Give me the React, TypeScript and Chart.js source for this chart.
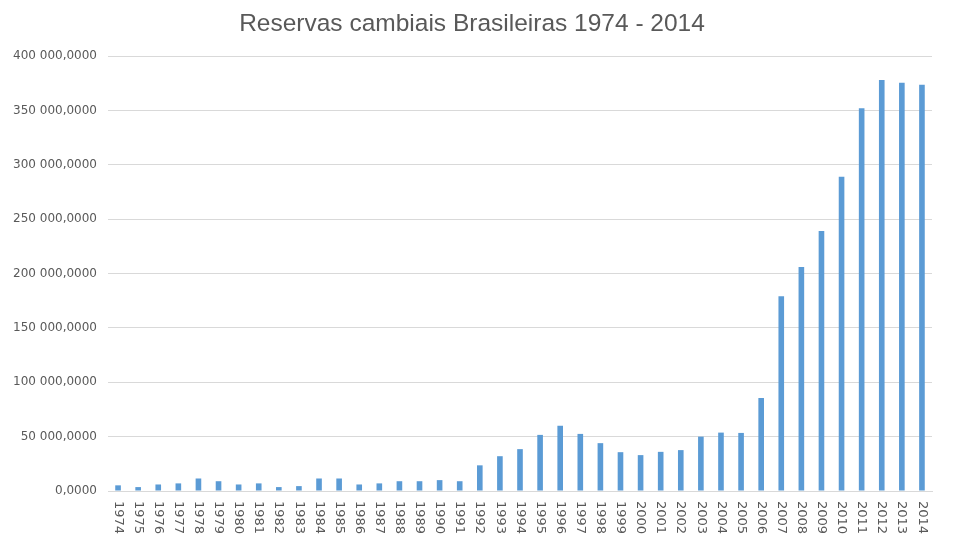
import React, { useEffect, useRef } from "react";
import { Chart, registerables } from "chart.js";

Chart.register(...registerables);

const TITLE = "Reservas cambiais Brasileiras 1974 - 2014";

const YEARS: string[] = [
  "1974", "1975", "1976", "1977", "1978", "1979", "1980", "1981", "1982", "1983",
  "1984", "1985", "1986", "1987", "1988", "1989", "1990", "1991", "1992", "1993",
  "1994", "1995", "1996", "1997", "1998", "1999", "2000", "2001", "2002", "2003",
  "2004", "2005", "2006", "2007", "2008", "2009", "2010", "2011", "2012", "2013",
  "2014",
];

const RESERVES: number[] = [
  5200, 3600, 6000, 7000, 11500, 9000, 6000, 7000, 3600, 4500,
  11500, 11500, 6000, 7000, 9000, 9000, 10000, 9000, 23600, 32000,
  38500, 51600, 60000, 52500, 44000, 35700, 33000, 36000, 37600, 50000,
  53700, 53400, 85500, 179000, 206000, 239000, 289000, 352000, 378000, 375500,
  373600,
];

const Y_MIN = 0;
const Y_MAX = 400000;
const Y_STEP = 50000;

const TEXT_COLOR = "#595959";
const GRID_COLOR = "#d9d9d9";
const BAR_COLOR = "#5b9bd5";

function formatTick(v: number): string {
  const s = String(Math.round(v)).replace(/\B(?=(\d{3})+(?!\d))/g, " ");
  return s + ",0000";
}

const xLabelPlugin = {
  id: "xLabelsRotated",
  afterDraw(chart: any) {
    const xs = chart.scales.x;
    const ctx = chart.ctx;
    ctx.save();
    ctx.font = "13px 'DejaVu Sans'";
    ctx.fillStyle = TEXT_COLOR;
    ctx.textAlign = "left";
    ctx.textBaseline = "middle";
    YEARS.forEach((label, i) => {
      const x = xs.getPixelForValue(i);
      ctx.save();
      ctx.translate(x, xs.top + 10);
      ctx.rotate(Math.PI / 2);
      ctx.fillText(label, 0, 0);
      ctx.restore();
    });
    ctx.restore();
  },
};

export default function App() {
  const canvasRef = useRef<HTMLCanvasElement | null>(null);

  useEffect(() => {
    if (!canvasRef.current) return;
    const chart = new Chart(canvasRef.current, {
      type: "bar",
      data: {
        labels: YEARS,
        datasets: [
          {
            data: RESERVES,
            backgroundColor: BAR_COLOR,
            categoryPercentage: 1,
            barPercentage: 0.28,
          },
        ],
      },
      options: {
        responsive: false,
        animation: false,
        layout: { padding: { left: 12, right: 28, top: 0, bottom: 0 } },
        plugins: {
          legend: { display: false },
          tooltip: { enabled: false },
          title: {
            display: true,
            text: TITLE,
            color: TEXT_COLOR,
            font: { family: "'Liberation Sans'", size: 24.5, weight: "normal" },
            padding: { top: 10, bottom: 16.6 },
          },
        },
        scales: {
          x: {
            grid: { display: false },
            border: { display: true, color: GRID_COLOR },
            ticks: { display: false },
            afterFit(scale: any) {
              scale.height = 49;
            },
          },
          y: {
            min: Y_MIN,
            max: Y_MAX,
            grid: { color: GRID_COLOR, drawTicks: false },
            border: { display: false },
            ticks: {
              stepSize: Y_STEP,
              color: TEXT_COLOR,
              padding: 11,
              font: { family: "'DejaVu Sans'", size: 12 },
              callback: (v: any) => formatTick(Number(v)),
            },
            afterFit(scale: any) {
              scale.width = 96;
            },
          },
        },
      },
      plugins: [xLabelPlugin],
    });
    return () => chart.destroy();
  }, []);

  return (
    <div style={{ position: "fixed", left: 0, top: 0, width: 960, height: 540, background: "#fff" }}>
      <canvas ref={canvasRef} width={960} height={540} style={{ display: "block" }} />
    </div>
  );
}
